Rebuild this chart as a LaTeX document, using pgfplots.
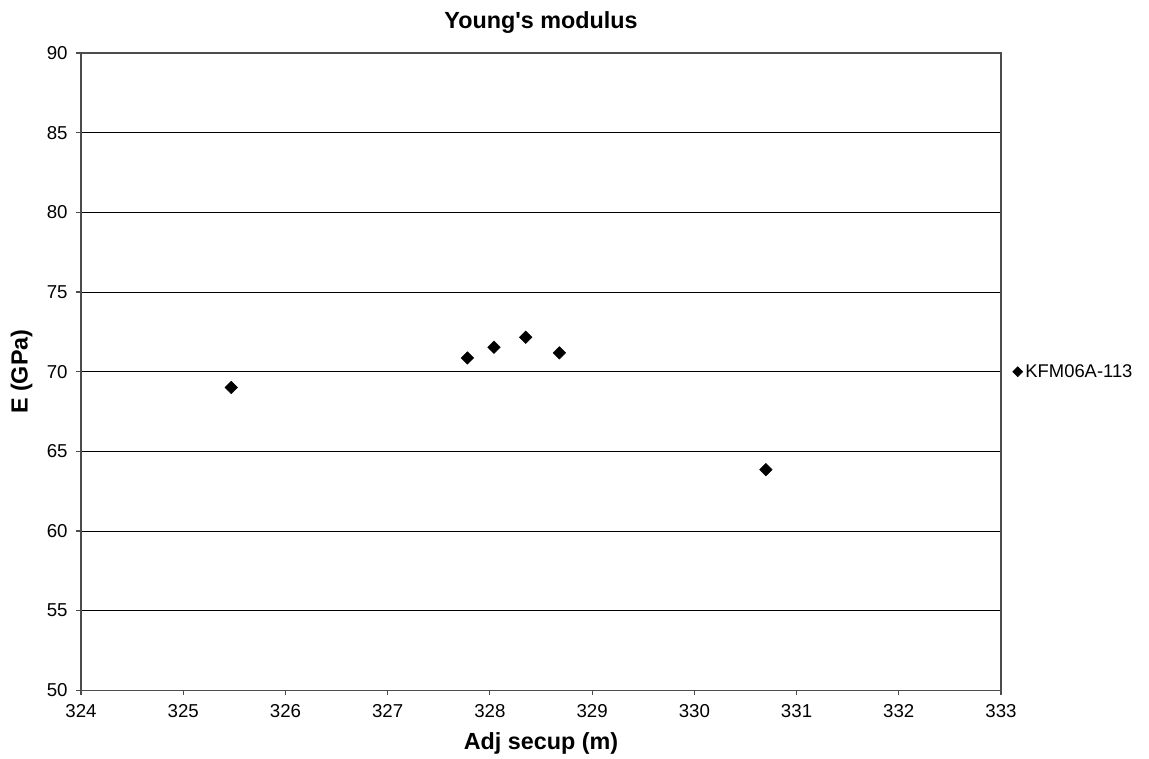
\documentclass[border=0pt]{standalone}
\usepackage{fontspec}
\setmainfont{Liberation Sans}
\usepackage{pgfplots}
\pgfplotsset{compat=1.18}
\begin{document}
\begin{tikzpicture}
\begin{axis}[
  name=ax,
  width=690pt, height=478pt, scale only axis,
  xmin=324, xmax=333, ymin=50, ymax=90,
  xtick={324,325,...,333}, ytick={50,55,...,90},
  /pgf/number format/assume math mode=true,
  /pgf/number format/.cd, use comma=false, 1000 sep={}, /pgfplots/.cd,
  tick label style={font=\fontsize{14}{16}\selectfont},
  xticklabel style={anchor=base, yshift=-16.5pt},
  yticklabel style={xshift=-3pt},
  xtick pos=left, ytick pos=left, tick align=outside,
  major tick length=3.5pt,
  axis line style={black!70, line width=0.8pt},
  tick style={black!70, line width=0.8pt},
  ymajorgrids, major grid style={black, line width=0.6pt},
  every axis title shift=0pt,
  title={Young\textquotesingle s modulus},
  title style={font=\fontsize{17.5}{20}\selectfont\bfseries, at={(axis description cs:0.5,1.0392)}, anchor=base},
  xlabel={Adj secup (m)}, ylabel={E (GPa)},
  label style={font=\fontsize{17.5}{20}\selectfont\bfseries},
  xlabel style={at={(axis description cs:0.5,-0.0926)}, anchor=base},
  ylabel style={at={(axis description cs:-0.0645,0.5)}, anchor=center},
  legend style={draw=none, fill=none, at={(1.0125,0.5)}, anchor=west,
    font=\fontsize{13.8}{16}\selectfont, inner xsep=0pt,
    legend cell align=left},
  legend image code/.code={\draw[mark=square*, mark size=2.65pt, mark options={rotate=45, fill=black, draw=black}] plot coordinates {(0.12cm,0cm)};},
  legend cell align=left,
]
\addplot[only marks, mark=square*, mark size=3.3pt, mark options={rotate=45, fill=black, draw=black}]
  coordinates {
  (325.47,69.01)
  (327.78,70.86)
  (328.04,71.53)
  (328.35,72.16)
  (328.68,71.18)
  (330.70,63.85)
};
\addlegendentry{KFM06A-113}
\end{axis}
\path ([shift={(-60.75pt,-51pt)}]ax.south west) rectangle ([shift={(111pt,39.75pt)}]ax.north east);
\end{tikzpicture}
\end{document}
